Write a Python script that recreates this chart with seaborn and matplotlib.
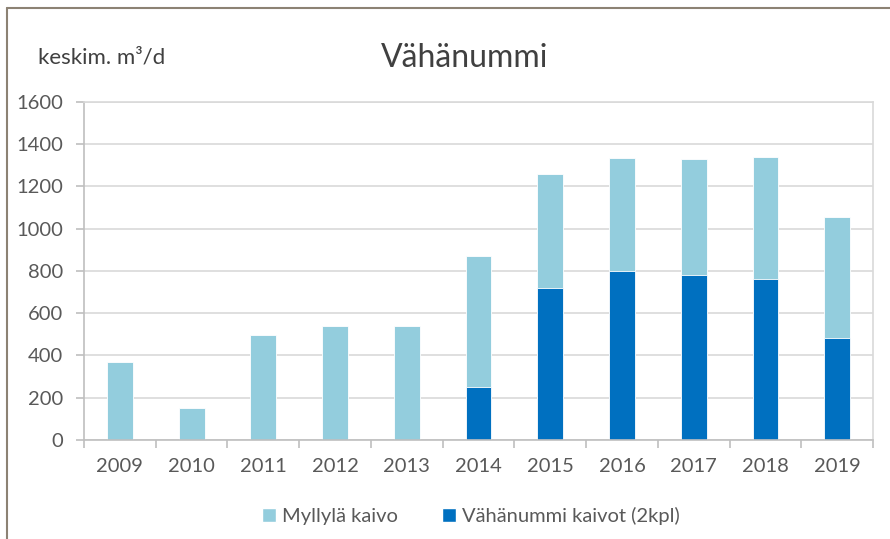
import numpy as np
import pandas as pd
import matplotlib
matplotlib.use("Agg")
import matplotlib.pyplot as plt
import seaborn as sns
from matplotlib.patches import Patch

years = ['2009', '2010', '2011', '2012', '2013', '2014', '2015', '2016', '2017', '2018', '2019']
# total = Myllylä + Vähänummi
total = [368, 152, 495, 540, 540, 870, 1260, 1333, 1329, 1340, 1056]
vahanummi = [0, 0, 0, 0, 0, 252, 721, 801, 780, 763, 485]

light = '#93CDDD'
dark = '#0070C0'
txt = '#595959'

sns.set_theme(style='white')
plt.rcParams['font.family'] = ['Lato', 'DejaVu Sans']

df = pd.DataFrame({'year': years, 'total': total, 'vah': vahanummi})

fig = plt.figure(figsize=(8.9, 5.39), dpi=100)
ax = fig.add_axes([0.0944, 0.1837, 0.8866, 0.6271])

sns.barplot(data=df, x='year', y='total', color=light, width=0.36,
            saturation=1, ax=ax, edgecolor='white', linewidth=0.6)
sns.barplot(data=df, x='year', y='vah', color=dark, width=0.36,
            saturation=1, ax=ax, edgecolor='white', linewidth=0.6)

ax.set_ylim(0, 1600)
ax.set_xlim(-0.5, len(years) - 0.5)
ax.set_yticks(range(0, 1601, 200))
ax.yaxis.grid(True, color='#D9D9D9', linewidth=1.2)
ax.set_axisbelow(True)
ax.set_xlabel('')
ax.set_ylabel('')

for s in ['left', 'bottom', 'right', 'top']:
    ax.spines[s].set_visible(True)
    ax.spines[s].set_color('#BFBFBF')
    ax.spines[s].set_linewidth(1.2)
ax.spines['top'].set_color('#D9D9D9')
ax.spines['right'].set_color('#D9D9D9')

ax.set_xticks(np.arange(-0.5, len(years), 1), minor=True)
ax.tick_params(axis='x', which='minor', length=6, width=1.2, color='#BFBFBF', bottom=True)
ax.tick_params(axis='x', which='major', length=0, pad=13, labelsize=14.5, labelcolor=txt)
ax.tick_params(axis='y', length=6, width=1.2, color='#BFBFBF', left=True, pad=9,
               labelsize=14.5, labelcolor=txt)

fig.text(0.522, 0.893, 'Vähänummi', ha='center', va='center', fontsize=23, color='#404040')
fig.text(0.043, 0.893, 'keskim. m³/d', ha='left', va='center', fontsize=16, color='#404040')

handles = [Patch(facecolor=light, label='Myllylä kaivo'),
           Patch(facecolor=dark, label='Vähänummi kaivot (2kpl)')]
fig.legend(handles=handles, loc='center', bbox_to_anchor=(0.529, 0.043), ncol=2,
           frameon=False, fontsize=14.5, handlelength=0.7, handleheight=0.7,
           handletextpad=0.3, columnspacing=2.2, labelcolor=txt)

# outer chart border (left and top visible)
fig.add_artist(plt.Line2D([0.008, 0.008], [0, 0.985], color='#8C8274', linewidth=1.5))
fig.add_artist(plt.Line2D([0.008, 1.0], [0.985, 0.985], color='#8C8274', linewidth=1.5))

fig.savefig('out.png', dpi=100)
